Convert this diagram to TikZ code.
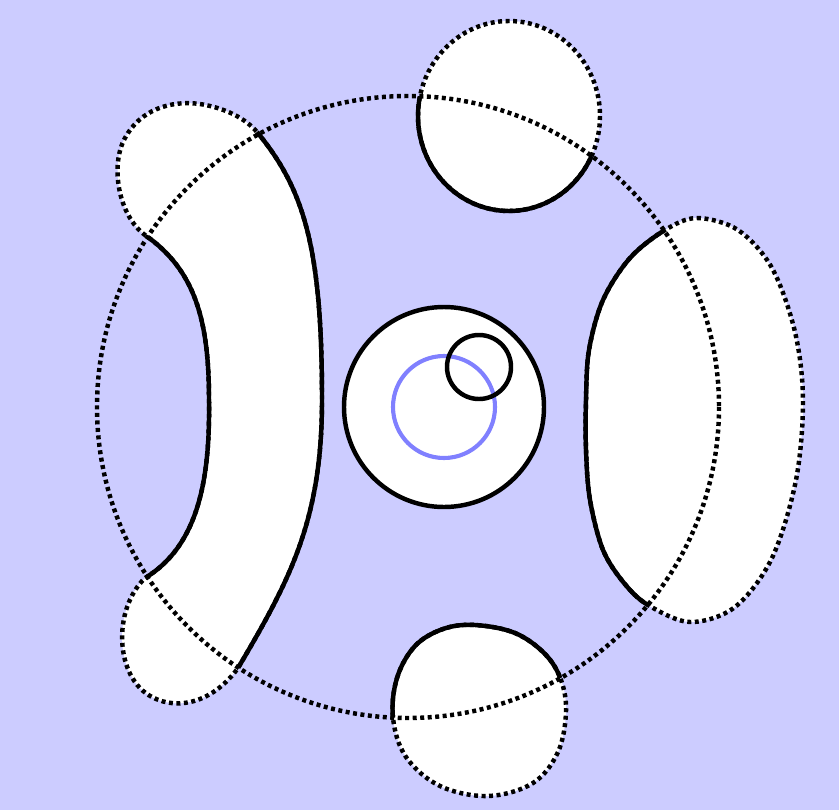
\documentclass[tikz,border=0pt]{standalone}
\usetikzlibrary{calc}

\definecolor{bgcol}{RGB}{204,204,255}
\definecolor{ringcol}{RGB}{128,128,255}

% blob outlines, in picture pixels
\newcommand{\blobtop}{(509,116) ellipse (91 and 95)}
\newcommand{\blobleft}{(257,132) .. controls (305,190) and (322,250) .. (322,400)
    .. controls (322,520) and (290,580) .. (238,668)
    .. controls (215,700) and (180,712) .. (152,697)
    .. controls (115,678) and (112,610) .. (145,578)
    .. controls (200,545) and (210,475) .. (209,400)
    .. controls (209,320) and (195,270) .. (145,235)
    .. controls (118,215) and (110,165) .. (125,138)
    .. controls (140,110) and (170,100) .. (200,104)
    .. controls (225,108) and (245,118) .. cycle}
\newcommand{\blobright}{plot[smooth cycle, tension=0.55] coordinates {(665,230) (697,218) (738,230) (772,268) (795,332) (803,400) (796,480) (772,558) (735,607) (690,622) (648,605) (624,583) (603,550) (590,500) (586,450) (586,400) (589,350) (603,300) (630,258)}}
\newcommand{\blobbottom}{plot[smooth cycle, tension=0.6] coordinates {(393,718) (397,678) (415,646) (443,629) (475,625) (515,633) (545,654) (561,680) (566,712) (558,752) (533,783) (488,796) (440,786) (406,757)}}

\begin{document}
\begin{tikzpicture}[x=0.03cm, y=-0.03cm,
    line/.style={line width=3.8pt},
    dotline/.style={line width=3.8pt, dash pattern=on 3.4pt off 3pt}]
    \coordinate (big) at (408,407);
    \coordinate (core) at (444,407);
    \coordinate (small) at (479,367);

    \fill[bgcol] (0,0) rectangle (839,810);
    \useasboundingbox (0,0) rectangle (839,810);

    % white blobs, dotted outside the ring
    \foreach \b in {\blobtop,\blobleft,\blobright,\blobbottom}
        \filldraw[fill=white, dotline] \b;
    % solid inside the ring
    \begin{scope}
        \clip (big) circle (311);
        \foreach \b in {\blobtop,\blobleft,\blobright,\blobbottom}
            \draw[line] \b;
    \end{scope}

    \filldraw[fill=white, line] (core) circle (100);
    \draw[ringcol, line width=3.5pt] (core) circle (51);
    \draw[line] (small) circle (32);

    \draw[dotline] (big) circle (311);
\end{tikzpicture}
\end{document}
